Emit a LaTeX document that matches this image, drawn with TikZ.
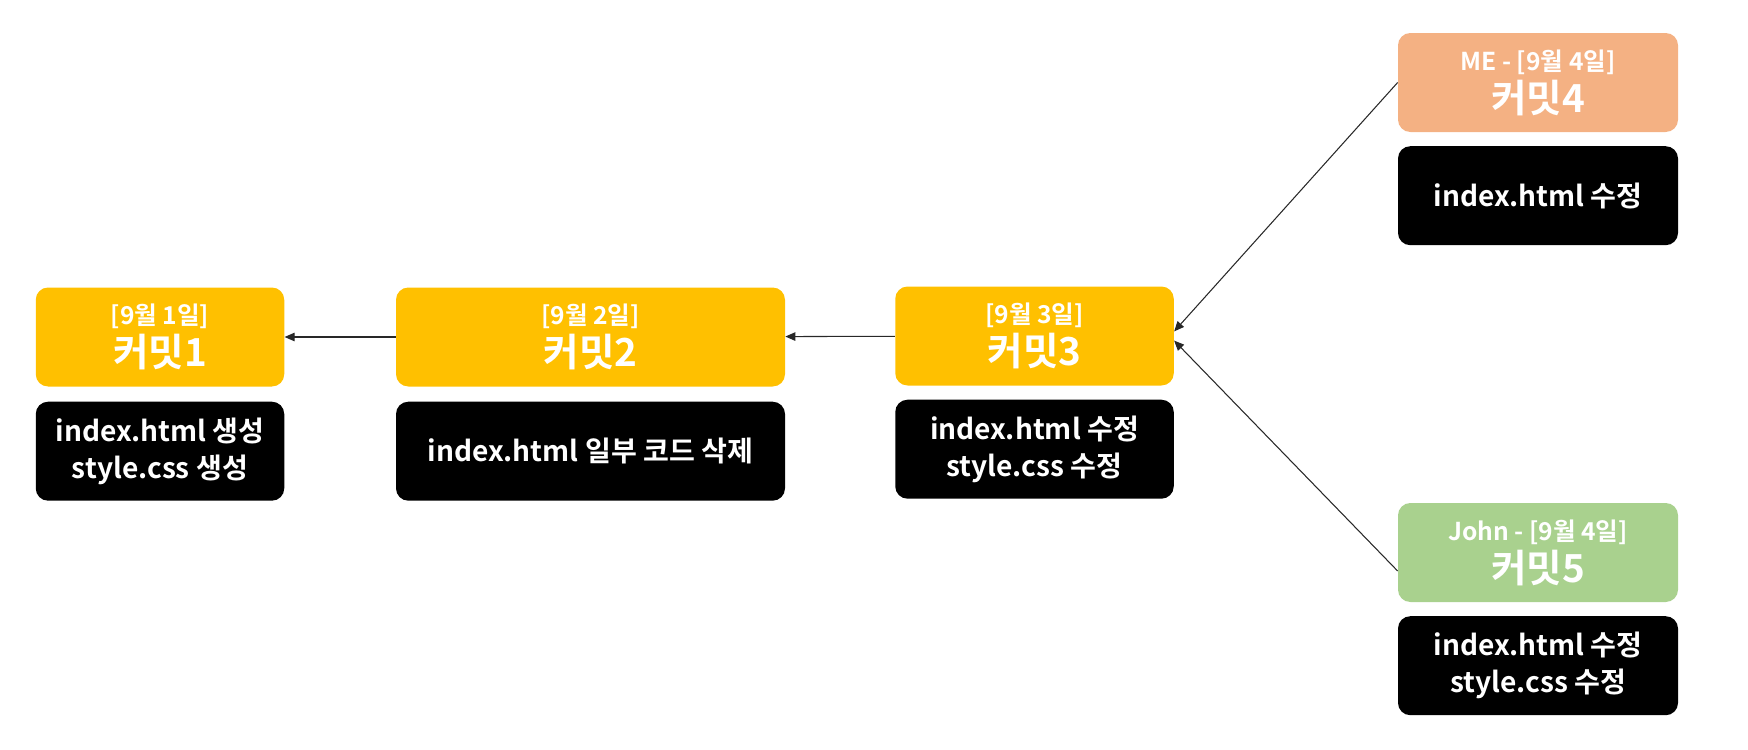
\documentclass[tikz,border=0pt]{standalone}
\usepackage{fontspec}
\setmainfont{Noto Sans CJK KR}[BoldFont={Noto Sans CJK KR Bold}]
\usetikzlibrary{arrows.meta,positioning}
\definecolor{gold}{RGB}{255,192,0}
\definecolor{peach}{RGB}{244,177,131}
\definecolor{sage}{RGB}{169,209,142}
\definecolor{ink}{RGB}{40,40,40}
\tikzset{
  >={Triangle[length=2mm,width=1.7mm]},
  head/.style={fill=#1,text=white,rounded corners=7pt,minimum height=1.98cm,
    minimum width=5.6cm,align=center,inner sep=2pt,font=\bfseries},
  head/.default=gold,
  body/.style={fill=black,text=white,rounded corners=7pt,minimum height=1.98cm,
    minimum width=5.6cm,align=center,inner sep=2pt,
    font=\bfseries\fontsize{16}{21}\selectfont},
  link/.style={->,line width=0.6pt,draw=ink},
}
\newcommand{\headtxt}[2]{{\fontsize{14}{17}\selectfont #1}\\[2pt]{\fontsize{22}{24}\selectfont #2}}

\begin{document}
\begin{tikzpicture}
  \useasboundingbox (0,0) rectangle (34.96,-14.98);
  % commits
  \node[head,minimum width=4.97cm] (c1) at (3.2,-6.74) {\headtxt{[9월 1일]}{커밋1}};
  \node[head,minimum width=7.78cm] (c2) at (11.81,-6.74) {\headtxt{[9월 2일]}{커밋2}};
  \node[head,minimum width=5.57cm] (c3) at (20.69,-6.72) {\headtxt{[9월 3일]}{커밋3}};
  \node[head=peach] (c4) at (30.76,-1.65) {\headtxt{ME - [9월 4일]}{커밋4}};
  \node[head=sage] (c5) at (30.76,-11.05) {\headtxt{John - [9월 4일]}{커밋5}};
  % what changed
  \node[body,minimum width=4.97cm,below=0.29cm of c1] (t1) {index.html 생성\\style.css 생성};
  \node[body,minimum width=7.78cm,below=0.29cm of c2] (t2) {index.html 일부 코드 삭제};
  \node[body,minimum width=5.57cm,below=0.27cm of c3] (t3) {index.html 수정\\style.css 수정};
  \node[body,below=0.27cm of c4] (t4) {index.html 수정};
  \node[body,below=0.27cm of c5] (t5) {index.html 수정\\style.css 수정};
  % parents
  \draw[link] (c2) -- (c1);
  \draw[link] (c3) -- (c2);
  \draw[link] (c4.west) -- ([yshift=2.6pt]c3.east);
  \draw[link] ([yshift=-0.37cm]c5.west) -- ([yshift=-2.6pt]c3.east);
\end{tikzpicture}
\end{document}
